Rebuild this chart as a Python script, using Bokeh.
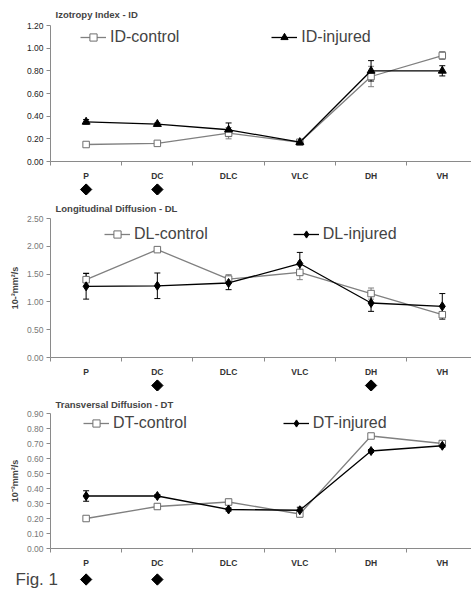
import math
from bokeh.plotting import figure
from bokeh.models import (ColumnDataSource, Whisker, TeeHead, FixedTicker, PrintfTickFormatter,
                          LinearAxis, Legend, LegendItem, Range1d, Label, Spacer)
from bokeh.layouts import column
from bokeh.embed import file_html
from bokeh.resources import INLINE

# ---------------- data ----------------
categories = ["P", "DC", "DLC", "VLC", "DH", "VH"]

id_control = [0.15, 0.16, 0.25, 0.17, 0.75, 0.935]
id_control_err = [0.01, 0.01, 0.05, 0.01, 0.09, 0.035]
id_injured = [0.35, 0.33, 0.28, 0.17, 0.80, 0.80]
id_injured_err = [0.02, 0.01, 0.06, 0.01, 0.09, 0.045]
id_significant = ["P", "DC"]

dl_control = [1.40, 1.94, 1.41, 1.53, 1.15, 0.77]
dl_control_err = [0.12, 0.03, 0.08, 0.13, 0.10, 0.05]
dl_injured = [1.28, 1.29, 1.34, 1.69, 0.98, 0.92]
dl_injured_err = [0.23, 0.23, 0.12, 0.20, 0.15, 0.23]
dl_significant = ["DC", "DH"]

dt_control = [0.20, 0.28, 0.31, 0.23, 0.75, 0.70]
dt_control_err = [0.01, 0.02, 0.02, 0.02, 0.01, 0.02]
dt_injured = [0.35, 0.35, 0.26, 0.255, 0.65, 0.685]
dt_injured_err = [0.035, 0.01, 0.01, 0.02, 0.01, 0.01]
dt_significant = ["P", "DC"]

FONT = "Liberation Sans"
GRID = "#a8a8a8"
AXIS = "#8a8a8a"
CTRL = "#808080"
W = 471
LEFT = 50
X_START = -0.5
X_END = 5.41
BOTTOM = 22      # height taken by the category axis below each frame
TITLE_H = 13     # height taken by a title above its standoff


def no_align(fig):
    try:
        fig.frame_align = False
    except Exception:
        pass


def make_chart(title, ctrl, ctrl_err, inj, inj_err, labels, inj_marker, inj_size,
               y_max, y_step, height, title_standoff, ylabel, tick_color,
               legend_x, legend_dy, legend_spacing):
    n = len(categories)
    xs = list(range(n))
    p = figure(width=W, height=height, output_backend="svg", toolbar_location=None,
               x_range=Range1d(X_START, X_END), y_range=Range1d(0, y_max),
               min_border_left=LEFT, min_border_right=0, min_border_top=0,
               min_border_bottom=0, x_axis_type=None, y_axis_type=None)
    no_align(p)
    p.outline_line_color = None

    p.title.text = title
    p.title.text_font = FONT
    p.title.text_font_size = "9.5px"
    p.title.text_font_style = "bold"
    p.title.align = "left"
    p.title.offset = 5
    p.title.standoff = title_standoff

    n_ticks = int(round(y_max / y_step))
    yax = LinearAxis(ticker=FixedTicker(ticks=[round(i * y_step, 2) for i in range(n_ticks + 1)]),
                     formatter=PrintfTickFormatter(format="%.2f"))
    yax.axis_line_color = AXIS
    yax.major_tick_line_color = AXIS
    yax.major_tick_out = 4
    yax.major_tick_in = 0
    yax.minor_tick_line_color = None
    yax.major_label_standoff = 3
    yax.major_label_text_font = FONT
    yax.major_label_text_font_size = "8.5px"
    yax.major_label_text_color = tick_color
    if ylabel:
        yax.axis_label = ylabel
        yax.axis_label_text_font = FONT
        yax.axis_label_text_font_size = "9px"
        yax.axis_label_text_font_style = "bold"
        yax.axis_label_standoff = 4
    p.add_layout(yax, "left")

    xax = LinearAxis(ticker=FixedTicker(ticks=xs, minor_ticks=[i - 0.5 for i in range(n + 1)]),
                     major_label_overrides={i: c for i, c in enumerate(categories)})
    xax.axis_line_color = AXIS
    xax.major_tick_line_color = None
    xax.major_tick_out = 0
    xax.minor_tick_line_color = AXIS
    xax.minor_tick_out = 4
    xax.minor_tick_in = 0
    xax.major_label_standoff = 5
    xax.axis_label_standoff = 0
    xax.major_label_text_font = FONT
    xax.major_label_text_font_size = "8.5px"
    xax.major_label_text_font_style = "bold"
    xax.major_label_text_color = "#333333"
    p.add_layout(xax, "below")

    p.ygrid.grid_line_color = GRID
    p.ygrid.ticker = yax.ticker
    p.xgrid.grid_line_color = None

    src = ColumnDataSource(dict(
        x=xs, ctrl=ctrl, inj=inj,
        cu=[v + e for v, e in zip(ctrl, ctrl_err)], cl=[v - e for v, e in zip(ctrl, ctrl_err)],
        iu=[v + e for v, e in zip(inj, inj_err)], il=[v - e for v, e in zip(inj, inj_err)],
    ))

    w1 = Whisker(source=src, base="x", upper="cu", lower="cl", line_color=CTRL, line_width=1,
                 upper_head=TeeHead(size=6, line_color=CTRL), lower_head=TeeHead(size=6, line_color=CTRL))
    w2 = Whisker(source=src, base="x", upper="iu", lower="il", line_color="black", line_width=1,
                 upper_head=TeeHead(size=6, line_color="black"), lower_head=TeeHead(size=6, line_color="black"))
    p.add_layout(w1)
    p.add_layout(w2)

    l1 = p.line("x", "ctrl", source=src, line_color=CTRL, line_width=1.3)
    s1 = p.scatter("x", "ctrl", source=src, marker="square", size=6.5, fill_color="white",
                   line_color="#6e6e6e", line_width=1)
    l2 = p.line("x", "inj", source=src, line_color="black", line_width=1.3)
    s2 = p.scatter("x", "inj", source=src, marker=inj_marker, size=inj_size, fill_color="black",
                   line_color="black")

    frame_h = height - (TITLE_H + title_standoff) - BOTTOM
    legend = Legend(items=[LegendItem(label=labels[0], renderers=[l1, s1]),
                           LegendItem(label=labels[1], renderers=[l2, s2])],
                    location=(legend_x, frame_h - legend_dy - 20), orientation="horizontal",
                    spacing=legend_spacing, glyph_width=26, glyph_height=18, label_standoff=4,
                    padding=0, margin=0, border_line_color=None, background_fill_alpha=0,
                    label_text_font=FONT, label_text_font_size="16px", label_height=18)
    p.add_layout(legend)
    return p


def make_strip(significant, height, y_low=-1.0, fig_label=None):
    ppu = (W - LEFT) / (X_END - X_START)
    s = figure(width=W, height=height, output_backend="svg", toolbar_location=None,
               x_range=Range1d(X_START - LEFT / ppu, X_END), y_range=Range1d(y_low, 1),
               min_border=0, min_border_left=0, min_border_right=0, min_border_top=0,
               min_border_bottom=0, x_axis_type=None, y_axis_type=None)
    no_align(s)
    s.outline_line_color = None
    s.xgrid.grid_line_color = None
    s.ygrid.grid_line_color = None
    sig_idx = [categories.index(c) for c in significant]
    s.scatter(x=sig_idx, y=[0] * len(sig_idx), marker="square", angle=math.pi / 4, size=8,
              fill_color="black", line_color="black")
    if fig_label:
        s.add_layout(Label(x=15, y=0, x_units="screen", y_units="data", text=fig_label,
                           text_font=FONT, text_font_size="17px", text_baseline="middle",
                           text_align="left"))
    return s


p1 = make_chart("Izotropy Index - ID", id_control, id_control_err, id_injured, id_injured_err,
                ["ID-control", "ID-injured"], "triangle", 8, 1.2, 0.2,
                183, 12, None, "#222222", 30, 0.5, 92)
s1 = make_strip(id_significant, 12)
p2 = make_chart("Longitudinal Diffusion - DL", dl_control, dl_control_err, dl_injured, dl_injured_err,
                ["DL-control", "DL-injured"], "diamond", 9, 2.5, 0.5,
                184, 10, "10-\u00b3mm\u00b2/s", "#777777", 54, 5, 85)
s2 = make_strip(dl_significant, 12)
p3 = make_chart("Transversal Diffusion - DT", dt_control, dt_control_err, dt_injured, dt_injured_err,
                ["DT-control", "DT-injured"], "diamond", 9, 0.9, 0.1,
                178, 8, "10\u207b\u00b3mm\u00b2/s", "#777777", 33, -1, 96)
s3 = make_strip(dt_significant, 20, y_low=-1.22, fig_label="Fig. 1")

layout = column(p1, s1, p2, s2, Spacer(width=W, height=1), p3, s3, spacing=0)
open("out.html", "w").write(file_html(layout, INLINE))
